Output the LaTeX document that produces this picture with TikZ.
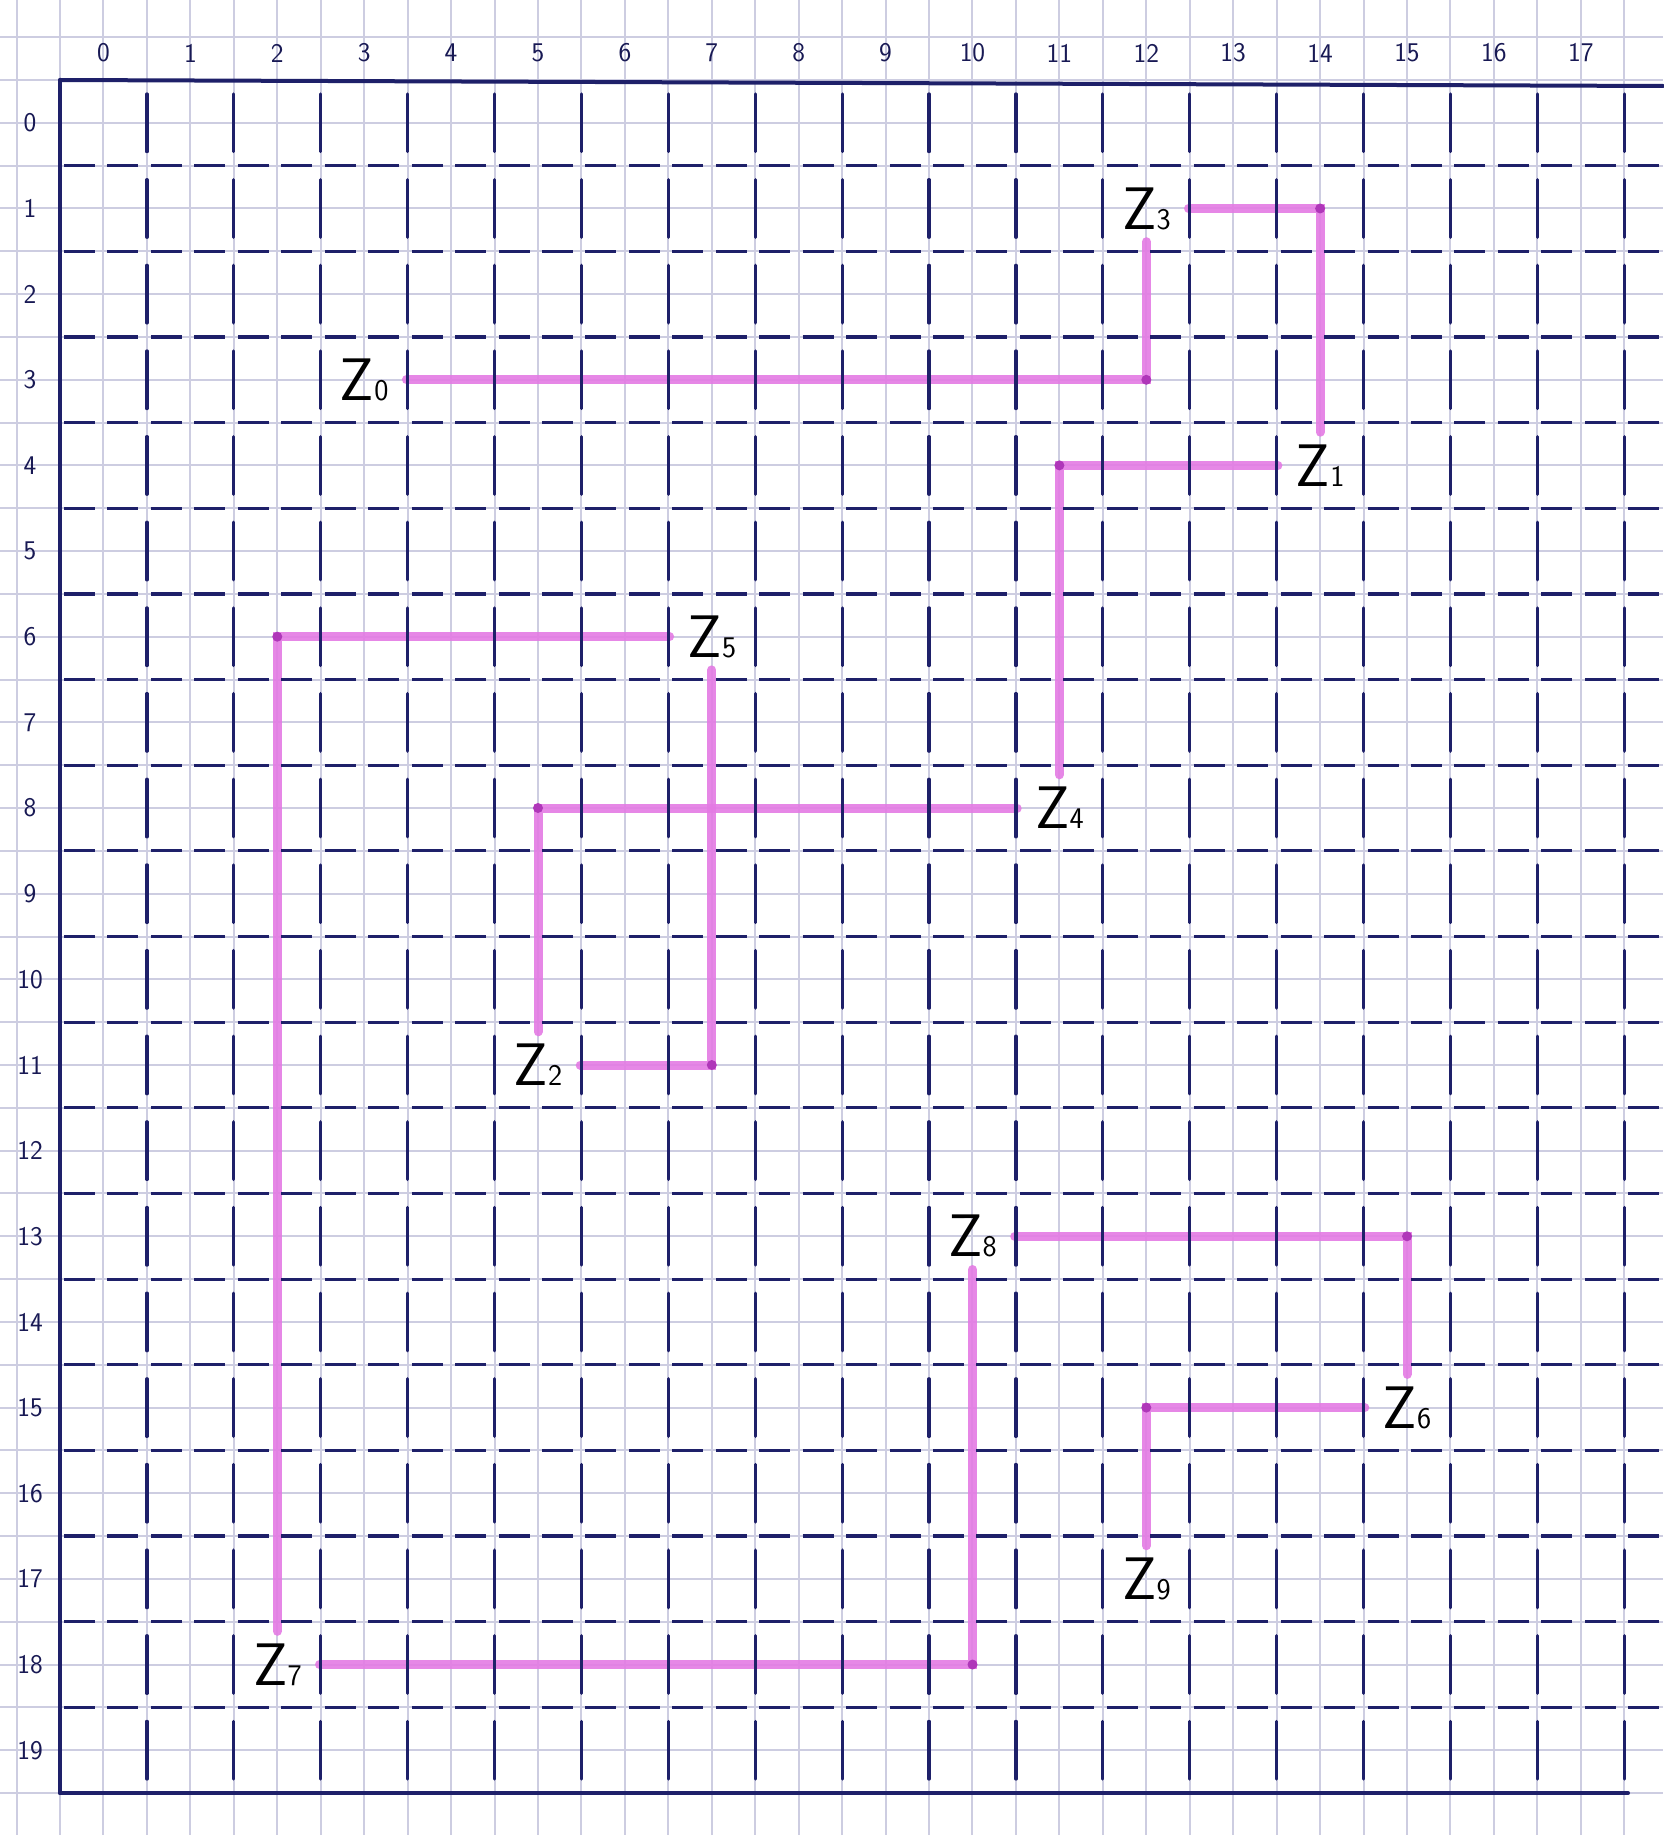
\documentclass[tikz,border=0pt]{standalone}
\usepackage{fontspec}
\definecolor{navyink}{RGB}{30,32,105}
\definecolor{paperline}{RGB}{205,205,225}
\definecolor{hlpink}{RGB}{228,122,228}
\definecolor{hldot}{RGB}{175,55,185}
\newcommand{\zlab}[1]{{\fontsize{60}{60}\selectfont Z}{\fontsize{30}{30}\selectfont #1}}
\tikzset{
  paper/.style={draw=paperline, line width=2pt},
  inkline/.style={draw=navyink, line width=3.2pt, line cap=round},
  inkdash/.style={draw=navyink, line width=3.2pt, dash pattern=on 31pt off 12.45pt, dash phase=-4pt},
  border/.style={draw=navyink, line width=4pt, line cap=round},
  collab/.style={font=\sffamily\fontsize{27}{27}\selectfont, text=navyink!80!black},
  zn/.style={minimum width=84pt, minimum height=66pt, inner sep=0pt, text=black, font=\sffamily},
  hl/.style={draw=hlpink, line width=9pt, line cap=round, opacity=0.9},
  hldotc/.style={fill=hldot}
}
\begin{document}
\begin{tikzpicture}[x=1pt,y=-1pt]
\useasboundingbox (0,0) rectangle (1663,1835);
\fill[white] (0,0) rectangle (1663,1835);
% paper grid
\foreach \i in {-1,...,37} {
  \pgfmathsetmacro\xx{60+\i*43.45}
  \draw[paper] (\xx,0) -- (\xx,1835);
}
\foreach \j in {-1,...,41} {
  \pgfmathsetmacro\yy{80+\j*42.825}
  \draw[paper] (0,\yy) -- (1663,\yy);
}
% labels of points
\node[zn] (Z0) at (364.2,379.8) {\zlab{0}};
\node[zn] (Z1) at (1320.1,465.4) {\zlab{1}};
\node[zn] (Z2) at (538.0,1065.0) {\zlab{2}};
\node[zn] (Z3) at (1146.3,208.5) {\zlab{3}};
\node[zn] (Z4) at (1059.4,808.0) {\zlab{4}};
\node[zn] (Z5) at (711.8,636.7) {\zlab{5}};
\node[zn] (Z6) at (1407.0,1407.6) {\zlab{6}};
\node[zn] (Z7) at (277.3,1664.5) {\zlab{7}};
\node[zn] (Z8) at (972.5,1236.3) {\zlab{8}};
\node[zn] (Z9) at (1146.3,1578.9) {\zlab{9}};
% highlighted path
\draw[hl] (Z0) -| (Z3);
\draw[hl] (Z3) -| (Z1);
\draw[hl] (Z1) -| (Z4);
\draw[hl] (Z4) -| (Z2);
\draw[hl] (Z2) -| (Z5);
\draw[hl] (Z5) -| (Z7);
\draw[hl] (Z7) -| (Z8);
\draw[hl] (Z8) -| (Z6);
\draw[hl] (Z6) -| (Z9);
\foreach \a/\b in {Z0/Z3,Z3/Z1,Z1/Z4,Z4/Z2,Z2/Z5,Z5/Z7,Z7/Z8,Z8/Z6,Z6/Z9} {
  \fill[hldotc] (\a -| \b) circle (5pt);
}
% ink grid
\foreach \r in {1,...,19} {
  \pgfmathsetmacro\yy{80+\r*85.65}
  \draw[inkdash] (60,\yy) -- (1663,\yy);
}
\foreach \k in {1,...,18} {
  \pgfmathsetmacro\xx{60+\k*86.9}
  \foreach \r in {0,...,19} {
    \pgfmathsetmacro\ya{80+\r*85.65+14}
    \pgfmathsetmacro\yb{80+(\r+1)*85.65-14}
    \draw[inkline] (\xx,\ya) -- (\xx,\yb);
  }
}
\draw[border] (60,80) -- (1663,86);
\draw[border] (60,80) -- (60,1793);
\draw[border] (60,1793) -- (1628,1793);
% column and row numbers
\foreach \c in {0,...,17} {
  \pgfmathsetmacro\xx{60+(\c+0.5)*86.9}
  \node[collab] (col\c) at (\xx,53) {\c};
}
\foreach \r in {0,...,19} {
  \pgfmathsetmacro\yy{80+(\r+0.5)*85.65}
  \node[collab] (row\r) at (30,\yy) {\r};
}
\end{tikzpicture}
\end{document}
